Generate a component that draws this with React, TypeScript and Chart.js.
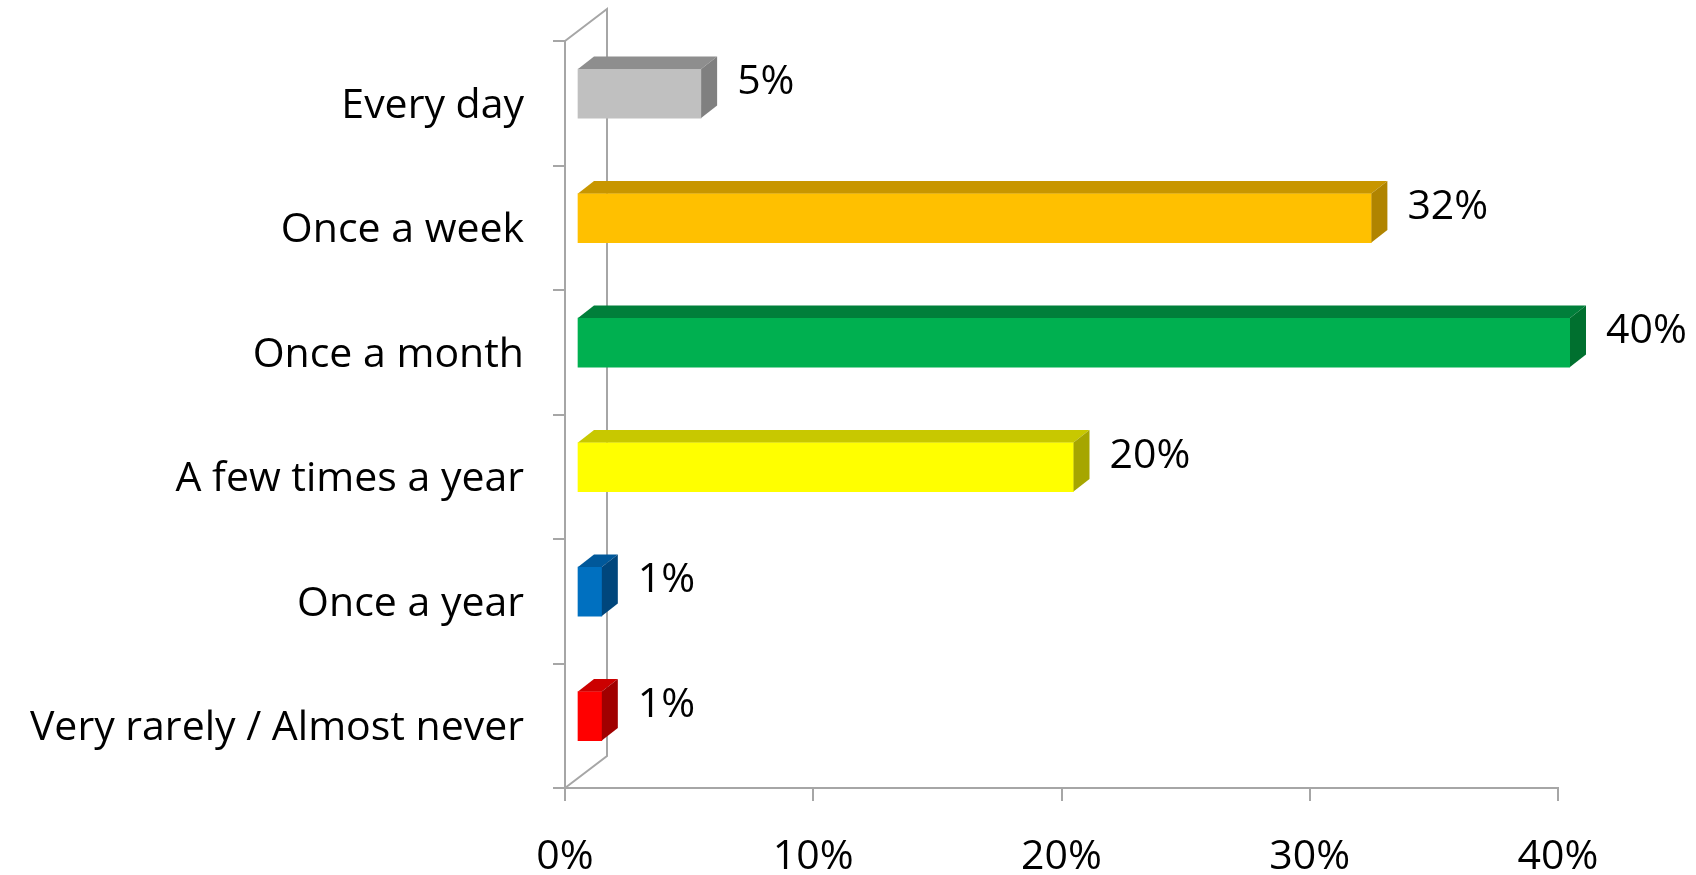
import React, { useEffect, useRef } from "react";
import { Chart, registerables } from "chart.js";

Chart.register(...registerables);

const categories = [
  "Every day",
  "Once a week",
  "Once a month",
  "A few times a year",
  "Once a year",
  "Very rarely / Almost never",
];
const values = [5, 32, 40, 20, 1, 1];
const xTickValues = [0, 10, 20, 30, 40];

const frontColors = ["#c0c0c0", "#ffc000", "#00b050", "#ffff00", "#0070c0", "#ff0000"];
const topColors = ["#8e8e8e", "#c89600", "#007f3a", "#c8c800", "#00589a", "#cc0000"];
const sideColors = ["#808080", "#b08400", "#00702f", "#a6a600", "#00467c", "#a00000"];

const FONT = "'Open Sans', Lato, sans-serif";
const FONT_SIZE = 41;
const AXIS_COLOR = "#a6a6a6";

// 3D geometry
const WALL_DX = 42;
const WALL_DY = 32;
const BAR_SHIFT_X = 12;
const BAR_SHIFT_Y = 9.7;
const BAR_DX = 16;
const BAR_DY = 12.5;

const threeD = {
  id: "threeD",
  beforeDatasetsDraw(chart: any) {
    const { ctx, chartArea } = chart;
    const { left, top, bottom } = chartArea;
    ctx.save();
    ctx.strokeStyle = AXIS_COLOR;
    ctx.lineWidth = 2;
    ctx.beginPath();
    ctx.moveTo(left, top);
    ctx.lineTo(left + WALL_DX, top - WALL_DY);
    ctx.lineTo(left + WALL_DX, bottom - WALL_DY);
    ctx.lineTo(left, bottom);
    ctx.stroke();
    ctx.restore();
    ctx.save();
    ctx.translate(BAR_SHIFT_X, -BAR_SHIFT_Y);
  },
  afterDatasetsDraw(chart: any) {
    const { ctx } = chart;
    const meta = chart.getDatasetMeta(0);
    meta.data.forEach((el: any, i: number) => {
      const { x, y, base, height } = el.getProps(["x", "y", "base", "height"], true);
      const t = y - height / 2;
      const b = y + height / 2;
      ctx.fillStyle = topColors[i];
      ctx.beginPath();
      ctx.moveTo(base, t);
      ctx.lineTo(x, t);
      ctx.lineTo(x + BAR_DX, t - BAR_DY);
      ctx.lineTo(base + BAR_DX, t - BAR_DY);
      ctx.closePath();
      ctx.fill();
      ctx.fillStyle = sideColors[i];
      ctx.beginPath();
      ctx.moveTo(x, t);
      ctx.lineTo(x + BAR_DX, t - BAR_DY);
      ctx.lineTo(x + BAR_DX, b - BAR_DY);
      ctx.lineTo(x, b);
      ctx.closePath();
      ctx.fill();
      ctx.fillStyle = "#000";
      ctx.font = `${FONT_SIZE}px ${FONT}`;
      ctx.textAlign = "left";
      ctx.textBaseline = "middle";
      ctx.fillText(values[i] + "%", x + BAR_DX + 20, y - 11);
    });
    ctx.restore();
  },
};

export default function App() {
  const ref = useRef<HTMLCanvasElement>(null);
  useEffect(() => {
    if (!ref.current) return;
    const chart = new Chart(ref.current, {
      type: "bar",
      data: {
        labels: categories,
        datasets: [
          {
            data: values,
            backgroundColor: frontColors,
            borderWidth: 0,
            barThickness: 49,
          },
        ],
      },
      options: {
        indexAxis: "y",
        responsive: false,
        animation: false,
        layout: { padding: { top: 41, right: 138, left: 0, bottom: 0 } },
        plugins: { legend: { display: false }, tooltip: { enabled: false } },
        scales: {
          x: {
            type: "linear",
            min: 0,
            max: 40,
            afterBuildTicks: (scale: any) => {
              scale.ticks = xTickValues.map((v) => ({ value: v }));
            },
            afterFit: (scale: any) => {
              scale.height = 87;
              scale.paddingLeft = 0;
              scale.paddingRight = 0;
            },
            ticks: {
              callback: (v: any) => v + "%",
              color: "#000",
              font: { family: FONT, size: FONT_SIZE },
              padding: 32,
              maxRotation: 0,
            },
            grid: {
              display: true,
              drawOnChartArea: false,
              drawTicks: true,
              tickLength: 13,
              color: AXIS_COLOR,
              lineWidth: 2,
            },
            border: { display: true, color: AXIS_COLOR, width: 2 },
          },
          y: {
            type: "category",
            afterFit: (scale: any) => {
              scale.width = 565;
              scale.paddingTop = 0;
              scale.paddingBottom = 0;
            },
            ticks: {
              color: "#000",
              font: { family: FONT, size: FONT_SIZE },
              padding: 29,
              labelOffset: 3,
            },
            grid: {
              display: true,
              drawOnChartArea: false,
              drawTicks: true,
              tickLength: 12,
              color: AXIS_COLOR,
              lineWidth: 2,
            },
            border: { display: true, color: AXIS_COLOR, width: 2 },
          },
        },
      },
      plugins: [threeD],
    });
    return () => chart.destroy();
  }, []);
  return (
    <div style={{ position: "absolute", left: 0, top: 0, width: 1696, height: 875, background: "#fff" }}>
      <canvas ref={ref} width={1696} height={875} style={{ display: "block" }} />
    </div>
  );
}
